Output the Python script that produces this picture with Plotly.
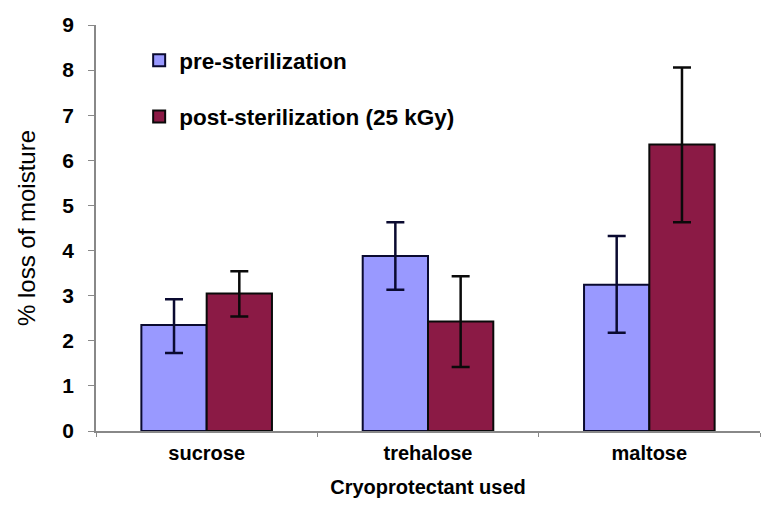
import plotly.graph_objects as go

categories = ["sucrose", "trehalose", "maltose"]
pre_vals = [2.35, 3.88, 3.24]
pre_err_up = [0.57, 0.75, 1.08]
pre_err_down = [0.62, 0.75, 1.06]
post_vals = [3.05, 2.43, 6.35]
post_err_up = [0.49, 1.00, 1.71]
post_err_down = [0.51, 1.01, 1.72]
y_ticks = list(range(0, 10))

fig = go.Figure()
fig.add_trace(go.Bar(
    name="pre-sterilization", x=categories, y=pre_vals, legendgroup="a",
    marker=dict(color="#9999FF", line=dict(color="#0a0a30", width=2)),
    error_y=dict(type="data", symmetric=False, array=pre_err_up, arrayminus=pre_err_down,
                 color="#0a0a30", thickness=2.5, width=9),
))
fig.add_trace(go.Bar(
    name="post-sterilization (25 kGy)", x=categories, y=post_vals, legendgroup="b",
    marker=dict(color="#8B1A45", line=dict(color="#0a0a0a", width=2)),
    error_y=dict(type="data", symmetric=False, array=post_err_up, arrayminus=post_err_down,
                 color="#0a0a0a", thickness=2.5, width=9),
))

fig.update_layout(
    width=757, height=498,
    margin=dict(l=88, r=5, t=15, b=75),
    paper_bgcolor="white", plot_bgcolor="white",
    barmode="group", bargap=0.41, bargroupgap=0,
    font=dict(family="Liberation Sans, Arial, sans-serif", color="black"),
    legend=dict(x=0.065, y=0.965, xanchor="left", yanchor="top",
                font=dict(size=22.5, family="Liberation Sans, Arial, sans-serif", weight="bold"),
                tracegroupgap=24, bgcolor="rgba(0,0,0,0)"),
    xaxis=dict(
        showline=True, linecolor="#888888", linewidth=1.5,
        ticks="outside", tickson="boundaries", ticklen=4, tickcolor="#888888",
        tickfont=dict(size=20, weight="bold"), ticklabelstandoff=3,
        title=dict(text="Cryoprotectant used", standoff=17,
                   font=dict(size=20, weight="bold")),
    ),
    yaxis=dict(
        range=[0, 9], tickvals=y_ticks, showgrid=False, zeroline=False,
        showline=True, linecolor="#888888", linewidth=1.5,
        ticks="outside", ticklen=6, tickcolor="#888888",
        tickfont=dict(size=21, weight="bold"), ticklabelstandoff=10,
        title=dict(text="% loss of moisture", standoff=20, font=dict(size=24)),
    ),
)

fig.write_html("out.html")
